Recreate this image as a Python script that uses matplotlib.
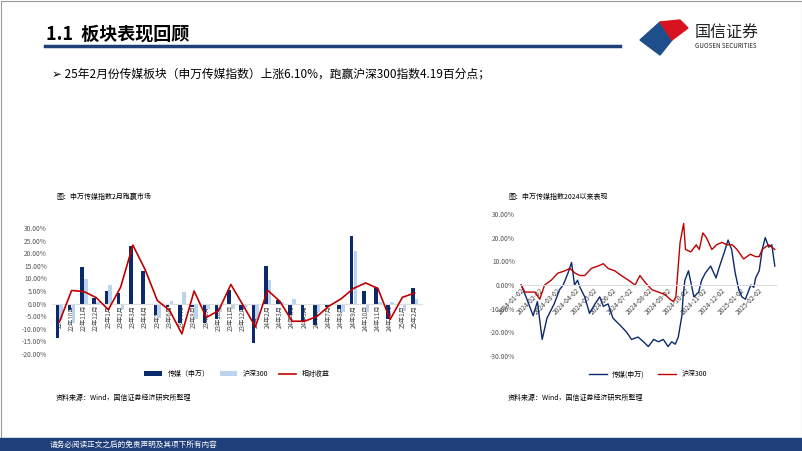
import numpy as np
import pandas as pd
import matplotlib
matplotlib.use("Agg")
import matplotlib.pyplot as plt
from matplotlib.patches import Rectangle, Polygon
from matplotlib.ticker import FuncFormatter

plt.rcParams["font.family"] = ["Noto Sans CJK SC", "DejaVu Sans"]

NAVY = "#0b2a6b"
LIGHT = "#bcd3ee"
RED = "#c00000"

# ---- 左图：月度涨跌幅（%）
months = ["22年9月", "22年10月", "22年11月", "22年12月", "23年1月", "23年2月", "23年3月",
          "23年4月", "23年5月", "23年6月", "23年7月", "23年8月", "23年9月", "23年10月",
          "23年11月", "23年12月", "24年1月", "24年2月", "24年3月", "24年4月", "24年5月",
          "24年6月", "24年7月", "24年8月", "24年9月", "24年10月", "24年11月", "24年12月",
          "25年1月", "25年2月"]
media_m = [-13.7, -2.5, 14.5, 2.3, 5.0, 4.1, 22.7, 13.0, -4.5, -1.5, -7.5, -1.2, -7.5, -6.0,
           5.5, -2.5, -15.5, 14.8, 1.5, -4.5, -7.0, -8.5, -1.5, -2.0, 27.0, 5.0, 6.7, -6.0,
           -0.5, 6.1]
hs300_m = [-6.5, -7.7, 9.8, 0.5, 7.4, -2.1, -0.5, -0.5, -5.7, 1.2, 4.5, -6.2, -2.0, -3.2,
           -2.1, -1.9, -6.3, 9.4, 0.6, 1.9, -0.7, -3.3, -0.5, -3.5, 21.0, -3.2, 0.7, 0.5,
           -3.0, 1.9]
rel_m = [-7.3, 5.2, 4.8, 2.4, -2.4, 6.5, 23.2, 13.5, 1.2, -2.7, -12.0, 5.0, -5.5, -2.8,
         7.6, -0.7, -9.2, 5.3, 0.9, -7.0, -7.0, -5.2, -1.0, 1.9, 6.0, 8.2, 6.0, -6.3,
         2.5, 4.2]

# ---- 右图：2024年以来累计涨跌幅（%），横轴为距2024-01-02的天数
media_day = [0, 8, 20, 27, 35, 43, 55, 64, 70, 78, 84, 89, 94, 98, 106, 114, 123, 131, 137,
             145, 153, 165, 176, 184, 195, 204, 212, 221, 229, 237, 245, 251, 257, 262, 268,
             270, 273, 279, 288, 296, 301, 307, 316, 325, 331, 339, 345, 351, 357, 363, 368,
             374, 383, 388, 391, 397, 402, 407, 413, 418, 423]
media_v = [0, -5, -13, -7, -23, -14, -8, -2, 0, 5, 9.5, 0, 2, -1, -5, -12, -8, -5, -9, -8,
           -14, -17, -20, -23, -22, -24, -26, -23, -24, -23, -26, -24, -25, -22, -13, -5, 2,
           6, -5, -3, 2, 5, 8, 3, 8, 14, 19, 15, 5, -2, -5, -6, 0, -1, 3, 6, 15, 20,
           16, 17, 8]

hs_day = [0, 6, 14, 23, 31, 39, 50, 61, 73, 81, 90, 98, 106, 117, 128, 137, 145, 156, 167,
          179, 190, 198, 207, 218, 229, 240, 248, 254, 258, 265, 268, 271, 274, 283, 292,
          297, 303, 309, 318, 326, 335, 343, 352, 360, 371, 382, 391, 397, 402, 407, 413, 423]
hs_v = [0, -3, -3, -3, -6, 0, 2, 5, 6, 7, 5, 4, 4, 7, 8, 9, 7, 6, 4, 2, 0, 4, 1, -2, -3, -4,
        -6, -7, -5, 18, 22, 26, 15, 14, 17, 15, 22, 20, 15, 17, 18, 17, 17, 15, 11, 13, 12,
        12, 15, 16, 17, 15]
date_ticks = ["2024-01-02", "2024-02-02", "2024-03-02", "2024-04-02", "2024-05-02",
              "2024-06-02", "2024-07-02", "2024-08-02", "2024-09-02", "2024-10-02",
              "2024-11-02", "2024-12-02", "2025-01-02", "2025-02-02"]

W, H = 802, 451
fig = plt.figure(figsize=(W / 100, H / 100), dpi=100)


def box(x0, y0, x1, y1):
    return [x0 / W, 1 - y1 / H, (x1 - x0) / W, (y1 - y0) / H]


bg = fig.add_axes([0, 0, 1, 1])
bg.set_xlim(0, W); bg.set_ylim(H, 0); bg.axis("off")
bg.add_patch(Rectangle((0.5, 0.5), W - 1, H - 1, fill=False, ec="#999999", lw=0.8))
bg.text(46, 34, "1.1  板块表现回顾", fontsize=13, fontweight="bold", va="center")
bg.plot([45, 620], [46, 46], color="#1f3f7a", lw=2.5)
bg.add_patch(Polygon([[640, 40], [660, 22], [672, 40], [660, 55]], color="#1f4e8c"))
bg.add_patch(Polygon([[660, 22], [672, 40], [688, 28], [680, 20]], color="#d9121f"))
bg.text(695, 33, "国信证券", fontsize=11.5, va="center", color="#222222")
bg.text(695, 46, "GUOSEN SECURITIES", fontsize=4.5, va="center", color="#222222")
bg.text(52, 74, "➢ 25年2月份传媒板块（申万传媒指数）上涨6.10%，跑赢沪深300指数4.19百分点；",
        fontsize=8.5, va="center")
bg.text(56, 197, "图：申万传媒指数2月跑赢市场", fontsize=5, va="center")
bg.text(508, 197, "图：申万传媒指数2024以来表现", fontsize=5, va="center")
bg.text(56, 398, "资料来源：Wind，国信证券经济研究所整理", fontsize=5, va="center")
bg.text(508, 398, "资料来源：Wind，国信证券经济研究所整理", fontsize=5, va="center")
bg.add_patch(Rectangle((0, 438), W, 13, color="#1f3f7a"))
bg.text(50, 444.5, "请务必阅读正文之后的免责声明及其项下所有内容", fontsize=5.5,
        color="white", va="center")

pct = FuncFormatter(lambda v, _: f"{v:.2f}%")


def zero_axis(a):
    a.spines["bottom"].set_position(("data", 0))
    a.spines["bottom"].set_color("#dddddd")
    for s in ["top", "right", "left"]:
        a.spines[s].set_visible(False)


# ---- 左图
ax = fig.add_axes(box(52, 228, 422, 354))
zero_axis(ax)
x = np.arange(len(months))
b1 = ax.bar(x - 0.16, media_m, width=0.3, color=NAVY, zorder=2)
b2 = ax.bar(x + 0.16, hs300_m, width=0.3, color=LIGHT, zorder=2)
l1, = ax.plot(x, rel_m, color=RED, lw=1.2, zorder=3)
ax.set_ylim(-20, 30)
ax.set_yticks(np.arange(-20, 31, 5))
ax.yaxis.set_major_formatter(pct)
ax.set_xlim(-0.6, len(months) - 0.4)
ax.set_xticks(x)
ax.set_xticklabels(months, rotation=90, fontsize=4.5, color="#444444")
ax.tick_params(axis="y", length=0, labelsize=4.8, labelcolor="#555555")
ax.tick_params(axis="x", length=0, pad=1)
ax.legend([b1, b2, l1], ["传媒（申万）", "沪深300", "相对收益"], loc="upper center",
          bbox_to_anchor=(0.5, -0.08), ncol=3, frameon=False,
          fontsize=5, handlelength=2.5, columnspacing=1.5)

# ---- 右图
ax2 = fig.add_axes(box(520, 214, 776, 356))
zero_axis(ax2)
ax2.plot(media_day, media_v, color=NAVY, lw=1.0, label="传媒(申万)")
ax2.plot(hs_day, hs_v, color=RED, lw=1.0, label="沪深300")
ax2.set_ylim(-30, 30)
ax2.set_yticks(np.arange(-30, 31, 10))
ax2.yaxis.set_major_formatter(pct)
t0 = pd.Timestamp("2024-01-02")
tick_pos = [(pd.Timestamp(d) - t0).days for d in date_ticks]
ax2.set_xticks(tick_pos)
ax2.set_xticklabels(date_ticks, rotation=45, ha="right", rotation_mode="anchor",
                    fontsize=4.8, color="#444444")
ax2.set_xlim(-2, 425)
ax2.tick_params(axis="y", length=0, labelsize=4.8, labelcolor="#555555")
ax2.tick_params(axis="x", length=0, pad=1)
ax2.legend(loc="upper center", bbox_to_anchor=(0.5, -0.06), ncol=2, frameon=False,
           fontsize=5, handlelength=2.5)

fig.savefig("out.png", dpi=100)
